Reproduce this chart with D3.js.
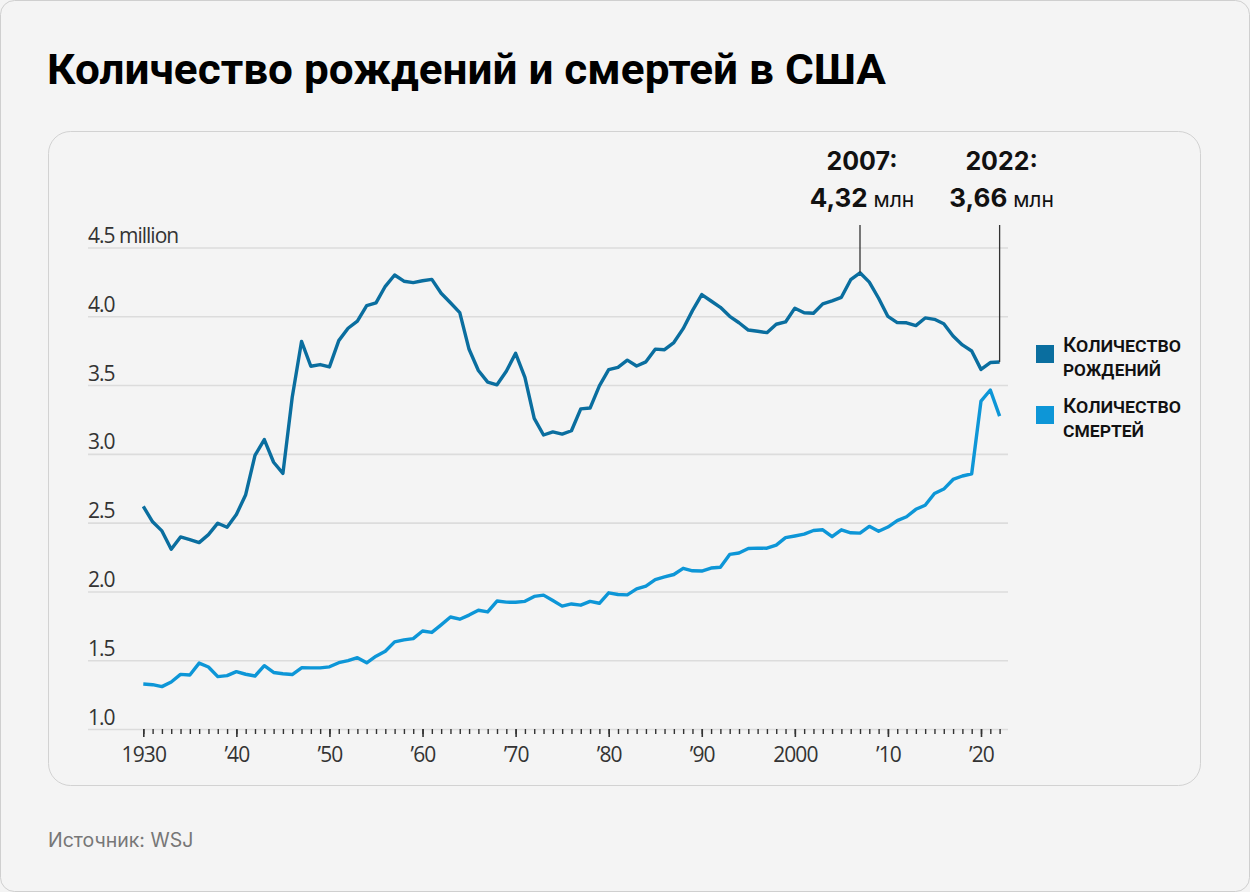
<!DOCTYPE html>
<html><head><meta charset="utf-8">
<script src="https://cdn.jsdelivr.net/npm/d3@7"></script>
<style>
html,body{margin:0;padding:0;background:#f4f4f4;}
svg{display:block;}
</style></head>
<body>
<svg id="c" width="1250" height="892"></svg>
<script>
const years = d3.range(1930, 2023);
const births = [2.618,2.506,2.440,2.307,2.396,2.377,2.355,2.413,2.496,2.466,
2.559,2.703,2.989,3.104,2.939,2.858,3.411,3.817,3.637,3.649,
3.632,3.823,3.913,3.965,4.078,4.097,4.218,4.300,4.255,4.245,
4.258,4.268,4.167,4.098,4.027,3.760,3.606,3.521,3.502,3.600,
3.731,3.556,3.258,3.137,3.160,3.144,3.168,3.327,3.333,3.494,
3.612,3.629,3.681,3.639,3.669,3.761,3.757,3.809,3.910,4.041,
4.158,4.111,4.065,4.000,3.953,3.900,3.891,3.881,3.942,3.959,
4.059,4.026,4.022,4.090,4.112,4.138,4.266,4.316,4.248,4.131,
3.999,3.954,3.953,3.932,3.988,3.978,3.946,3.856,3.792,3.748,
3.614,3.664,3.668];
const deaths = [1.327,1.322,1.308,1.342,1.397,1.393,1.479,1.451,1.381,1.388,
1.417,1.398,1.385,1.460,1.411,1.402,1.396,1.445,1.444,1.444,
1.452,1.482,1.497,1.518,1.481,1.529,1.565,1.633,1.648,1.657,
1.712,1.702,1.757,1.814,1.798,1.828,1.863,1.851,1.930,1.922,
1.921,1.928,1.964,1.973,1.934,1.893,1.909,1.900,1.928,1.914,
1.990,1.978,1.975,2.019,2.039,2.086,2.105,2.123,2.168,2.150,
2.148,2.170,2.176,2.269,2.279,2.312,2.315,2.314,2.337,2.391,
2.403,2.416,2.443,2.448,2.398,2.448,2.426,2.424,2.473,2.437,
2.468,2.515,2.543,2.597,2.626,2.712,2.744,2.814,2.839,2.855,
3.384,3.464,3.274];
const yTicks = [1.0,1.5,2.0,2.5,3.0,3.5,4.0,4.5];
const yTickLabels = ["1.0","1.5","2.0","2.5","3.0","3.5","4.0","4.5 million"];
const xMajor = [1930,1940,1950,1960,1970,1980,1990,2000,2010,2020];
const xMajorLabels = ["1930","’40","’50","’60","’70","’80","’90","2000","’10","’20"];
const seriesNames = [["Количество","рождений"],["Количество","смертей"]];
const annotations = [{year:2007, title:"2007:", value:"4,32", unit:" млн"},{year:2022, title:"2022:", value:"3,66", unit:" млн"}];

const birthColor = "#0a6e9f", deathColor = "#0d96d7";
const svg = d3.select("#c");

// outer frame
svg.append("rect").attr("x",0.5).attr("y",0.5).attr("width",1249).attr("height",891)
  .attr("rx",14).attr("fill","#f4f4f4").attr("stroke","#cfcfcf");
// title (condensed via textLength)
svg.append("text").attr("x",47).attr("y",84)
  .attr("font-family","Roboto,'Liberation Sans',sans-serif")
  .attr("font-weight","bold").attr("font-size",43).attr("fill","#000")
  .attr("textLength",839).attr("lengthAdjust","spacingAndGlyphs")
  .text("Количество рождений и смертей в США");
// card
svg.append("rect").attr("x",48.5).attr("y",131.5).attr("width",1152).attr("height",654)
  .attr("rx",22).attr("fill","#f4f4f4").attr("stroke","#d2d2d2").attr("stroke-width",1);
// source
svg.append("text").attr("x",48).attr("y",847)
  .attr("font-family","Inter,'Open Sans',sans-serif").attr("font-size",19.5).attr("fill","#777")
  .text("Источник: WSJ");

const x = d3.scaleLinear().domain([1930,2020]).range([143.3,981]);
const y = d3.scaleLinear().domain([1,4.5]).range([729,247.5]);
const left = 88, right = 1008;

// grid
const gy = svg.append("g").attr("transform",`translate(${left},0)`)
  .call(d3.axisRight(y).tickValues(yTicks).tickSize(right-left)
    .tickFormat((d,i)=>yTickLabels[i]));
gy.select(".domain").remove();
gy.selectAll(".tick line").attr("stroke","#dcdcdc").attr("stroke-width",1.6);
gy.selectAll(".tick text").attr("x",0).attr("dy",-5).attr("text-anchor","start")
  .attr("font-family","'Open Sans',sans-serif").attr("font-size",21).attr("letter-spacing",-1)
  .attr("fill","#333").attr("y",0);

// x axis
const gxMinor = svg.append("g").attr("transform",`translate(0,${y(1)})`)
  .call(d3.axisBottom(x).tickValues(years).tickSize(5).tickFormat(""));
gxMinor.select(".domain").remove();
gxMinor.selectAll(".tick line").attr("stroke","#333").attr("stroke-width",1.4);
const gx = svg.append("g").attr("transform",`translate(0,${y(1)})`)
  .call(d3.axisBottom(x).tickValues(xMajor).tickSize(8).tickPadding(10).tickFormat((d,i)=>xMajorLabels[i]));
gx.select(".domain").remove();
gx.selectAll(".tick line").attr("stroke","#333").attr("stroke-width",1.6);
gx.selectAll(".tick text").attr("font-family","'Open Sans',sans-serif").attr("font-size",21)
  .attr("letter-spacing",-0.9).attr("fill","#333");

// lines
const line = d3.line().x((d,i)=>x(years[i])).y(d=>y(d)).curve(d3.curveLinear);
svg.append("path").datum(deaths).attr("d",line).attr("fill","none")
  .attr("stroke",deathColor).attr("stroke-width",3.4).attr("stroke-linejoin","round");
svg.append("path").datum(births).attr("d",line).attr("fill","none")
  .attr("stroke",birthColor).attr("stroke-width",3.4).attr("stroke-linejoin","round");

// annotations
annotations.forEach(a=>{
  const i = years.indexOf(a.year);
  const cx = x(a.year);
  svg.append("line").attr("x1",cx).attr("x2",cx).attr("y1",225).attr("y2",y(births[i]))
    .attr("stroke","#333").attr("stroke-width",1.3);
  const tx = cx + 2;
  svg.append("text").attr("x",tx).attr("y",170).attr("text-anchor","middle")
    .attr("font-family","Inter,sans-serif").attr("font-weight",700).attr("font-size",25)
    .attr("fill","#111").text(a.title);
  const t2 = svg.append("text").attr("x",tx).attr("y",207).attr("text-anchor","middle")
    .attr("font-family","Inter,sans-serif").attr("fill","#111");
  t2.append("tspan").attr("font-weight",700).attr("font-size",26).text(a.value);
  t2.append("tspan").attr("font-weight",400).attr("font-size",21).text(a.unit);
});

// legend
const colors = [birthColor, deathColor];
seriesNames.forEach((s,k)=>{
  const oy = k*61;
  svg.append("rect").attr("x",1036).attr("y",345+oy).attr("width",18).attr("height",18).attr("fill",colors[k]);
  svg.append("text").attr("x",1063).attr("y",352+oy)
    .attr("font-family","Roboto,sans-serif")
    .attr("font-weight",500).attr("font-size",21).attr("font-variant","small-caps")
    .attr("textLength",118).attr("lengthAdjust","spacingAndGlyphs")
    .attr("fill","#111").text(s[0]);
  svg.append("text").attr("x",1063).attr("y",376+oy)
    .attr("font-family","Roboto,sans-serif")
    .attr("font-weight",500).attr("font-size",21).attr("font-variant","small-caps")
    .attr("textLength",k===0?98:81).attr("lengthAdjust","spacingAndGlyphs")
    .attr("fill","#111").text(s[1]);
});
</script>
</body></html>
